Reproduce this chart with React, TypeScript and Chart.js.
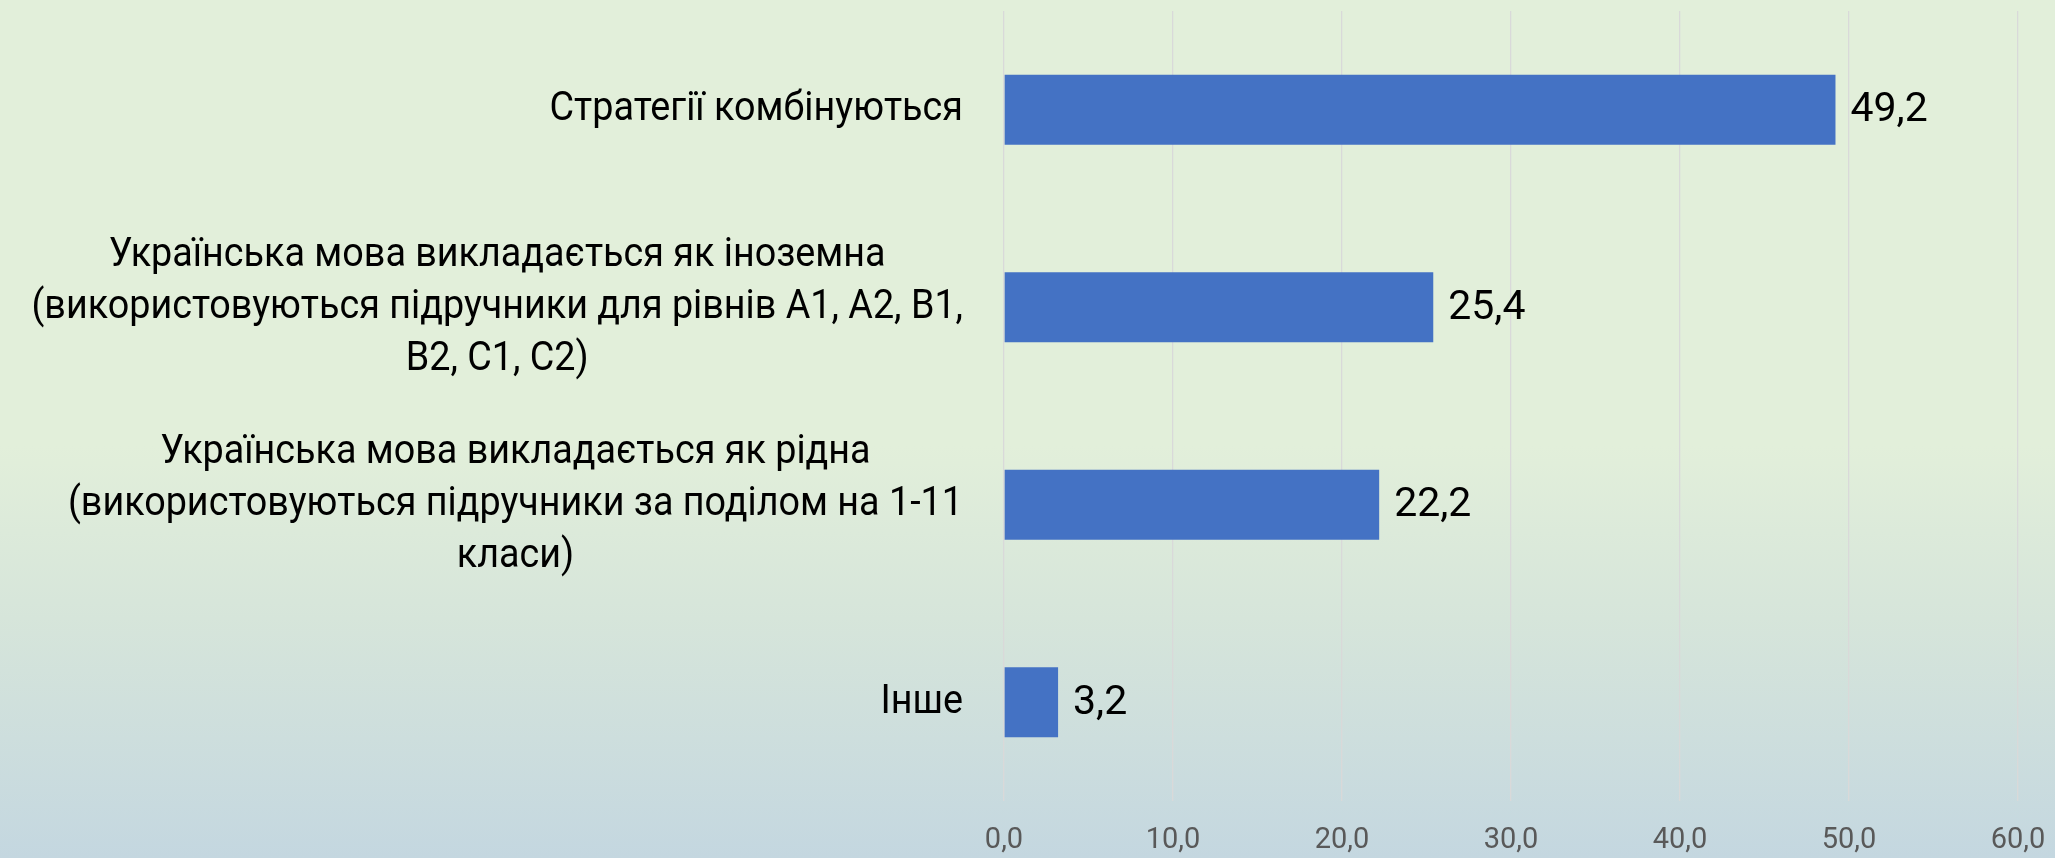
import React, { useEffect, useRef } from "react";
import { Chart, registerables } from "chart.js";

Chart.register(...registerables);

const categories: string[][] = [
  ["Стратегії комбінуються"],
  [
    "Українська мова викладається як іноземна",
    "(використовуються підручники для рівнів A1, A2, B1,",
    "B2, C1, C2)",
  ],
  [
    "Українська мова викладається як рідна",
    "(використовуються підручники за поділом на 1-11",
    "класи)",
  ],
  ["Інше"],
];

const values: number[] = [49.2, 25.4, 22.2, 3.2];
const valueLabels: string[] = ["49,2", "25,4", "22,2", "3,2"];
const xTickValues: number[] = [0, 10, 20, 30, 40, 50, 60];
const xTickLabels: string[] = ["0,0", "10,0", "20,0", "30,0", "40,0", "50,0", "60,0"];

const FONT = 'Roboto, "Liberation Sans", sans-serif';
const BIG = 41;
const SMALL = 29;
const LINE_H = 52;
const CONDENSE = 0.92;

const categoryLabelPlugin = {
  id: "categoryLabels",
  afterDraw(chart: any) {
    const ctx = chart.ctx;
    const yScale = chart.scales.y;
    const right = chart.chartArea.left - 41;
    ctx.save();
    ctx.font = `${BIG}px ${FONT}`;
    ctx.fillStyle = "#000000";
    ctx.textBaseline = "middle";
    ctx.textAlign = "center";
    categories.forEach((lines, i) => {
      const cy = yScale.getPixelForValue(i);
      const widest =
        Math.max(...lines.map((l) => ctx.measureText(l).width)) * CONDENSE;
      const cx = right - widest / 2;
      const n = lines.length;
      lines.forEach((l, j) => {
        ctx.save();
        ctx.translate(cx, cy + (j - (n - 1) / 2) * LINE_H);
        ctx.scale(CONDENSE, 1);
        ctx.fillText(l, 0, 0);
        ctx.restore();
      });
    });
    ctx.restore();
  },
};

const valueLabelPlugin = {
  id: "valueLabels",
  afterDatasetsDraw(chart: any) {
    const ctx = chart.ctx;
    const meta = chart.getDatasetMeta(0);
    ctx.save();
    ctx.font = `${BIG}px ${FONT}`;
    ctx.fillStyle = "#000000";
    ctx.textBaseline = "middle";
    ctx.textAlign = "left";
    meta.data.forEach((bar: any, i: number) => {
      ctx.fillText(valueLabels[i], bar.x + 15, bar.y + 1);
    });
    ctx.restore();
  },
};

export default function App() {
  const canvasRef = useRef<HTMLCanvasElement | null>(null);

  useEffect(() => {
    if (!canvasRef.current) return;
    const chart = new Chart(canvasRef.current, {
      type: "bar",
      data: {
        labels: categories.map((c) => c.join(" ")),
        datasets: [
          {
            data: values,
            backgroundColor: "#4472C4",
            borderWidth: 0,
            barPercentage: 0.354,
            categoryPercentage: 1,
          },
        ],
      },
      options: {
        indexAxis: "y",
        animation: false,
        responsive: true,
        maintainAspectRatio: false,
        layout: { padding: { top: 11, right: 37, bottom: 0, left: 0 } },
        plugins: {
          legend: { display: false },
          tooltip: { enabled: false },
        },
        scales: {
          x: {
            min: 0,
            max: 60,
            afterBuildTicks: (scale: any) => {
              scale.ticks = xTickValues.map((v) => ({ value: v }));
            },
            afterFit: (scale: any) => {
              scale.height = 57;
              scale.paddingLeft = 0;
              scale.paddingRight = 0;
            },
            ticks: {
              color: "#595959",
              font: { family: FONT, size: SMALL, lineHeight: 1.2 },
              padding: 22,
              maxRotation: 0,
              callback: (v: any) => {
                const idx = xTickValues.indexOf(Number(v));
                return idx >= 0 ? xTickLabels[idx] : "";
              },
            },
            grid: { color: "#D9D9D9", lineWidth: 1.3, drawTicks: false },
            border: { display: false },
          },
          y: {
            afterFit: (scale: any) => {
              scale.width = 1004;
              scale.paddingTop = 0;
              scale.paddingBottom = 0;
            },
            ticks: { display: false },
            grid: { display: false, drawTicks: false },
            border: { display: false },
          },
        },
      },
      plugins: [categoryLabelPlugin, valueLabelPlugin],
    });
    return () => chart.destroy();
  }, []);

  return (
    <div
      style={{
        position: "fixed",
        left: 0,
        top: 0,
        width: 2055,
        height: 858,
        background:
          "linear-gradient(to bottom, #E2EFDA 0%, #E2EFDA 52%, #D6E5DA 72%, #C4D7E0 100%)",
      }}
    >
      <canvas ref={canvasRef} />
    </div>
  );
}
